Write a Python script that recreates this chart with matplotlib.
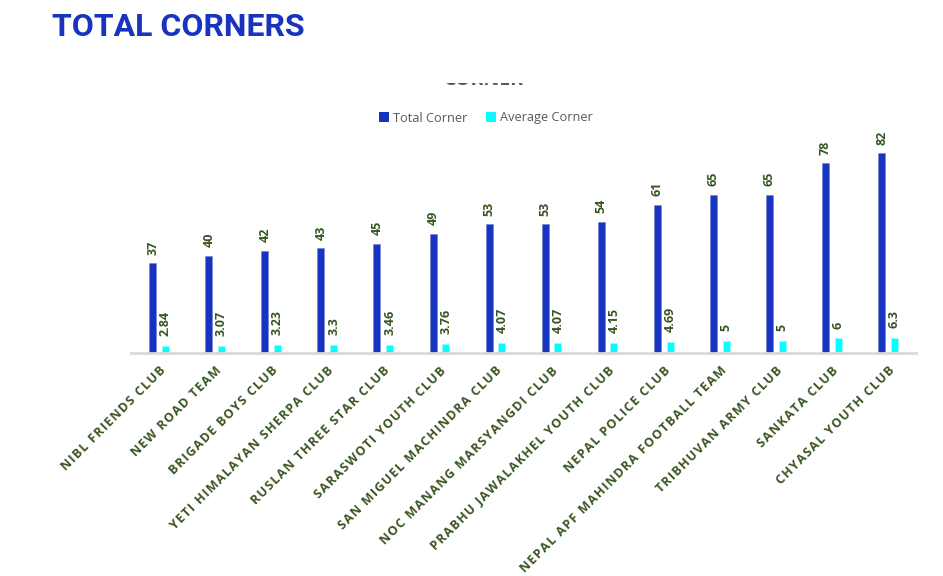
import matplotlib
matplotlib.use("Agg")
import matplotlib.pyplot as plt
from matplotlib.patches import Rectangle, Patch

teams = ["NIBL FRIENDS CLUB", "NEW ROAD TEAM", "BRIGADE BOYS CLUB", "YETI HIMALAYAN SHERPA CLUB",
         "RUSLAN THREE STAR CLUB", "SARASWOTI YOUTH CLUB", "SAN MIGUEL MACHINDRA CLUB",
         "NOC MANANG MARSYANGDI CLUB", "PRABHU JAWALAKHEL YOUTH CLUB", "NEPAL POLICE CLUB",
         "NEPAL APF MAHINDRA FOOTBALL TEAM", "TRIBHUVAN ARMY CLUB", "SANKATA CLUB", "CHYASAL YOUTH CLUB"]
total_corner = [37, 40, 42, 43, 45, 49, 53, 53, 54, 61, 65, 65, 78, 82]
average_corner = [2.84, 3.07, 3.23, 3.3, 3.46, 3.76, 4.07, 4.07, 4.15, 4.69, 5, 5, 6, 6.3]
avg_labels = ["2.84", "3.07", "3.23", "3.3", "3.46", "3.76", "4.07", "4.07", "4.15", "4.69", "5", "5", "6", "6.3"]

BLUE = "#1833BF"
CYAN = "#00FFFF"
GREEN = "#375623"
GREY = "#595959"

fig = plt.figure(figsize=(9.43, 5.76), dpi=100)
ax = fig.add_axes([131/943, 1-353/576, (916-131)/943, (353-134)/576])

x = list(range(len(teams)))
w = 0.125
off = 0.113
xt = [i - off for i in x]
xa = [i + off for i in x]
ax.bar(xt, total_corner, width=w, color=BLUE, edgecolor="#6f82d6", linewidth=0.4, zorder=2)
ax.bar(xa, average_corner, width=w, color=CYAN, edgecolor="#9ffcfc", linewidth=0.4, zorder=2)

for xi, v in zip(xt, total_corner):
    ax.annotate(str(v), (xi, v), xytext=(0, 6), textcoords="offset points", rotation=90,
                ha="center", va="bottom", fontsize=9, color=GREEN, fontweight="bold",
                family="Open Sans")
for xi, v, s in zip(xa, average_corner, avg_labels):
    ax.annotate(s, (xi, v), xytext=(0, 7), textcoords="offset points", rotation=90,
                ha="center", va="bottom", fontsize=9, color=GREEN, fontweight="bold",
                family="Open Sans")

ax.set_xlim(-0.5, len(teams) - 0.5)
ax.set_ylim(0, 90)
for s in ["top", "right", "left"]:
    ax.spines[s].set_visible(False)
ax.spines["bottom"].set_color("#d9d9d9")
ax.spines["bottom"].set_linewidth(2)
ax.set_yticks([])
ax.set_xticks(x)
spaced = ["\u200a".join(t) for t in teams]
ax.set_xticklabels(spaced, rotation=45, ha="right", va="top", rotation_mode="anchor",
                   fontsize=9, color=GREEN, fontweight="bold", family=["Open Sans", "DejaVu Sans"])
ax.tick_params(axis="x", length=0, pad=8)

fig.text(52/943, 1-27/576, "TOTAL CORNERS", fontsize=23, fontweight="bold", color=BLUE,
         family="Roboto", ha="left", va="center")

# clipped chart title remnant
fig.text(484/943, 1-85/576, "CORNER", fontsize=14, fontweight="bold", color=GREY,
         family="Open Sans", ha="center", va="baseline")
fig.patches.append(Rectangle((400/943, 1-83/576), 200/943, 40/576, transform=fig.transFigure,
                             facecolor="white", edgecolor="none", zorder=10))

handles = [Patch(facecolor=BLUE, edgecolor="none", label="Total Corner"),
           Patch(facecolor=CYAN, edgecolor="none", label="Average Corner")]
leg = fig.legend(handles=handles, loc="center", bbox_to_anchor=(486/943, 1-118/576), ncol=2,
                 frameon=False, handlelength=0.75, handleheight=0.75, handletextpad=0.3,
                 columnspacing=1.5, prop={"family": "Open Sans", "size": 9.2})
for t in leg.get_texts():
    t.set_color(GREY)

fig.savefig("out.png", dpi=100, facecolor="white")
